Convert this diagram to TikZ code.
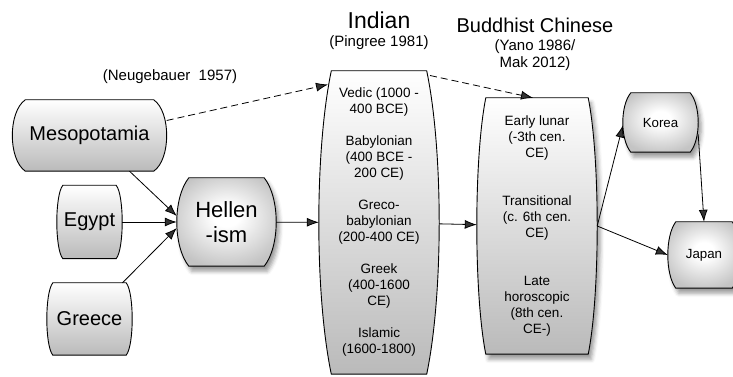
\documentclass[tikz,border=0pt]{standalone}
\usepackage{fontspec}
\setmainfont{Liberation Sans}
\usetikzlibrary{positioning,backgrounds,shadows.blur,arrows.meta}
\definecolor{boxtop}{HTML}{FFFFFF}
\definecolor{boxbottom}{HTML}{BABABA}
\definecolor{glowout}{HTML}{C4C4C4}
\pgfdeclareradialshading{glow}{\pgfpoint{0bp}{4bp}}{color(0bp)=(white); color(6bp)=(white); color(28bp)=(glowout); color(50bp)=(glowout)}

% outline with bulging sides round a node: style, node, bulge, control drop
\newcommand\barrel[4][]{%
    \path[#1] ([xshift=#3]#2.north west) -- ([xshift=-#3]#2.north east)
        .. controls ([xshift=#3/3,yshift=-#4]#2.north east) and ([xshift=#3/3,yshift=#4]#2.south east) .. ([xshift=-#3]#2.south east)
        -- ([xshift=#3]#2.south west)
        .. controls ([xshift=-#3/3,yshift=#4]#2.south west) and ([xshift=-#3/3,yshift=-#4]#2.north west) .. cycle;}

\begin{document}
\begin{tikzpicture}[
        x=1pt, y=1pt,
        node distance=100pt,
        every node/.style={
            align=center,
            inner sep=0pt
        },
        region/.style={
            draw=black,
            line width=0.9pt,
            top color=boxtop,
            bottom color=boxbottom
        },
        hub/.style={
            draw=black,
            line width=0.9pt,
            shading=glow,
            blur shadow={shadow xshift=3pt, shadow yshift=-5pt, shadow blur radius=4pt, shadow opacity=40}
        },
        big/.style={font=\fontsize{20}{24}\selectfont},
        small/.style={font=\fontsize{13.5}{16}\selectfont},
        ref/.style={font=\fontsize{15}{16.5}\selectfont},
        arrow/.style={
            -{Latex[length=12pt,width=9pt]},
            line width=0.8pt
        },
        link/.style={
            arrow,
            dash pattern=on 7pt off 4pt
        }
    ]
        \useasboundingbox (0,0) rectangle (733,377);

        % sources
        \node (egypt) [big, minimum width=65pt, minimum height=73pt] at (89.5,155) {Egypt};
        \node (meso) [big, minimum width=154pt, minimum height=71pt, above of=egypt, node distance=86.5pt] {Mesopotamia};
        \node (greece) [big, minimum width=85pt, minimum height=72pt, below of=egypt, node distance=97pt] {Greece};
        \node (hell) [font=\fontsize{22}{25}\selectfont, minimum width=99pt, minimum height=88pt, right of=egypt, node distance=137pt] {Hellen\\-ism};

        % traditions
        \node (indian) [small, minimum width=120pt, minimum height=303pt, right of=hell, node distance=152.5pt, yshift=-0.5pt]
            {Vedic (1000 -\\400 BCE)\\[16pt]Babylonian\\(400 BCE -\\200 CE)\\[16pt]Greco-\\babylonian\\(200-400 CE)\\[16pt]Greek\\(400-1600\\CE)\\[16pt]Islamic\\(1600-1800)};
        \node (bud) [small, minimum width=120pt, minimum height=256pt, right of=indian, node distance=158pt, yshift=-3.5pt]
            {Early lunar\\(-3th cen.\\CE)\\[32pt]Transitional\\(c. 6th cen.\\CE)\\[32pt]Late\\horoscopic\\(8th cen.\\CE-)};
        \node (korea) [font=\fontsize{13.3}{16}\selectfont, minimum width=75pt, minimum height=59pt] at (660.5,254.5) {Korea};
        \node (japan) [font=\fontsize{13.3}{16}\selectfont, minimum width=72pt, minimum height=66pt] at (704,122) {Japan};

        \begin{pgfonlayer}{background}
            \barrel[region]{meso}{13pt}{12pt}
            \barrel[region]{egypt}{6pt}{10pt}
            \barrel[region]{greece}{6pt}{10pt}
            \barrel[hub]{hell}{12pt}{20pt}
            \barrel[region]{indian}{12.5pt}{80pt}
            \barrel[region, blur shadow={shadow xshift=3pt, shadow yshift=-5pt, shadow blur radius=4pt, shadow opacity=40}]{bud}{9pt}{60pt}
            \barrel[hub]{korea}{8pt}{13pt}
            \barrel[hub]{japan}{8pt}{14pt}
        \end{pgfonlayer}

        % headings
        \node (neugebauer) [ref] at (170,300) {(Neugebauer\ \ 1957)};
        \node (indtitle) [font=\fontsize{23}{26}\selectfont] at (379,357) {Indian};
        \node (indref) [ref, below of=indtitle, node distance=23pt] {(Pingree 1981)};
        \node (budtitle) [big] at (535,352) {Buddhist Chinese};
        \node (budref) [ref, below of=budtitle, node distance=30pt] {(Yano 1986/\\Mak 2012)};

        \draw[arrow] ([xshift=40pt]meso.south) -- ([yshift=6pt]hell.west);
        \draw[arrow] (egypt) -- (hell);
        \draw[arrow] ([xshift=33pt]greece.north) -- ([yshift=-6pt]hell.west);
        \draw[arrow] (hell) -- (indian);
        \draw[arrow] (indian) -- (bud);
        \draw[arrow] (bud.east) -- ([yshift=-3pt]korea.west);
        \draw[arrow] (bud.east) -- (japan.west);
        \draw[arrow] ([yshift=-12pt]korea.east) -- (japan.north);
        \draw[link] ([yshift=15pt]meso.east) -- ([xshift=-51pt,yshift=138pt]indian.center);
        \draw[link] ([xshift=51pt,yshift=147pt]indian.center) -- ([xshift=-4pt]bud.north);
    \end{tikzpicture}
\end{document}
